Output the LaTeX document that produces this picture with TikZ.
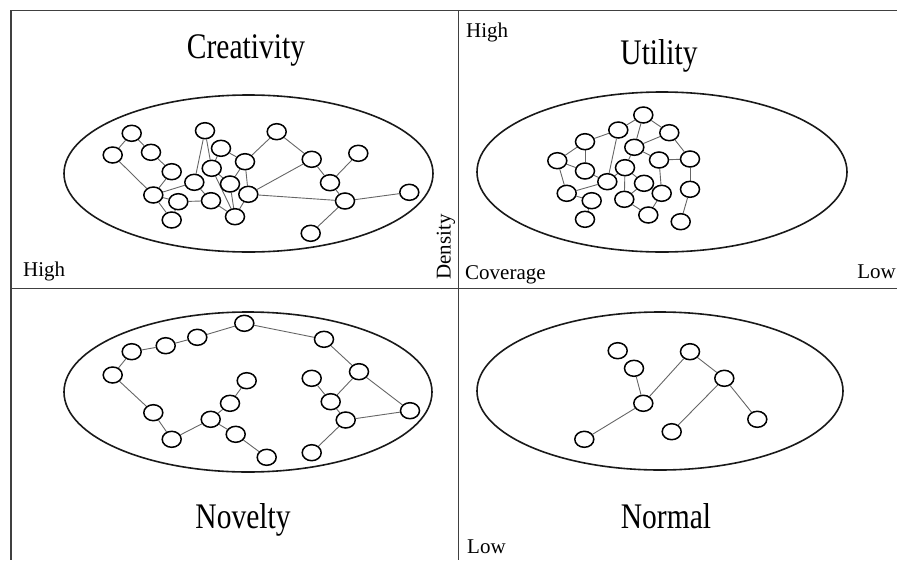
\documentclass[tikz,border=0pt]{standalone}
\usepackage{fontspec}
\setmainfont{Liberation Serif}
\newfontfamily\titlefont[FakeStretch=0.82]{Liberation Serif}
\usetikzlibrary{shapes.geometric}
\pgfdeclarelayer{bg}
\pgfsetlayers{bg,main}
\begin{document}
\begin{tikzpicture}[x=1pt,y=-1pt,
  frameline/.style={draw=black!75,line width=1.3pt},
  region/.style={draw=black!90,line width=1.6pt},
  vtx/.style={draw=black,line width=1.5pt,ellipse,minimum width=19pt,minimum height=16pt,inner sep=0pt,fill=white},
  edge/.style={draw=black!60,line width=0.9pt},
  title/.style={font=\titlefont\fontsize{36}{40}\selectfont,inner sep=0pt},
  lbl/.style={font=\fontsize{21}{24}\selectfont,inner sep=0pt}]
\useasboundingbox (0,0) rectangle (897,560);
% frame
\coordinate (tl) at (11,10.7);
\coordinate (tr) at (897,10.7);
\coordinate (bl) at (11,560);
\coordinate (mt) at (458.5,10.7);
\coordinate (mb) at (458.5,560);
\coordinate (ml) at (11,288.5);
\coordinate (mr) at (897,288.5);
\draw[frameline] (tr) -- (tl) -- (bl);
\draw[frameline] (mt) -- (mb);
\draw[frameline] (ml) -- (mr);
% regions
\draw[region] (248.5,173.5) ellipse [x radius=184.5pt, y radius=78.5pt];
\draw[region] (662,172) ellipse [x radius=185pt, y radius=80pt];
\draw[region] (248,392) ellipse [x radius=184pt, y radius=80pt];
\draw[region] (660,391) ellipse [x radius=183pt, y radius=79pt];
% titles and labels
\node[title,anchor=base] (tC) at (246,58) {Creativity};
\node[title,anchor=base] (tU) at (659,64) {Utility};
\node[title,anchor=base] (tN) at (243,528) {Novelty};
\node[title,anchor=base] (tM) at (666,528) {Normal};
\node[lbl,anchor=base west] (lh1) at (466,37) {High};
\node[lbl,anchor=base west] (lh2) at (23,276) {High};
\node[lbl,anchor=base west] (lcov) at (465,279) {Coverage};
\node[lbl,anchor=base east] (llow1) at (896,278) {Low};
\node[lbl,anchor=base west] (llow2) at (467,553) {Low};
\node[lbl,anchor=base,rotate=90] (lden) at (450.5,247) {Density};
% ---- Creativity
\foreach \n/\x/\y in {1/131.7/133.3,2/112.7/155,3/151/152.3,4/205/130.7,5/276.7/131.7,6/221/148.3,7/245/161.7,8/171.7/171.7,9/211.7/168.3,10/194.3/182.3,11/230/184,12/311.7/159.3,13/358.3/153.3,14/330/182.7,15/153.3/195,16/178.3/201.7,17/211/200.7,18/248.3/194.3,19/345/201,20/409.3/192.3,21/171.7/220,22/235/216.7,23/310.7/233.3}
  \node[vtx] (a\n) at (\x,\y) {};
% ---- Utility
\foreach \n/\x/\y in {1/643.3/115,2/618.3/130,3/669.3/132.7,4/585/141.7,5/634.3/147.3,6/557.3/160.7,7/659/160,8/690/159,9/585/171,10/625/167.7,11/607.3/181.7,12/644/183.3,13/566.7/193.3,14/591.7/200.7,15/624.3/199.3,16/661.7/193.3,17/690/189.3,18/585/219.3,19/648.3/215,20/680.7/221.7}
  \node[vtx] (b\n) at (\x,\y) {};
% ---- Novelty
\foreach \n/\x/\y in {1/244.3/323.3,2/197.3/337.3,3/165.7/345.7,4/131.7/351.7,5/112.7/375,6/324/339.3,7/359/371.7,8/246.7/380.7,9/311.7/378.3,10/230/403.3,11/330.7/401.7,12/153.3/412.7,13/210.7/419.3,14/345.7/420,15/410/410.7,16/171.7/439.3,17/235.7/434.3,18/266.7/457.3,19/311.7/452.7}
  \node[vtx] (c\n) at (\x,\y) {};
% ---- Normal
\foreach \n/\x/\y in {1/617.7/350.7,2/634/368.3,3/690/351.7,4/724.3/378.3,5/643.3/403.3,6/584.3/439.3,7/671.7/431.7,8/757.3/419.3}
  \node[vtx] (d\n) at (\x,\y) {};
% edges (behind the vertices)
\begin{pgfonlayer}{bg}
\foreach \p/\q in {1/2,1/3,3/8,2/15,8/15,15/10,15/16,15/21,16/21,16/17,10/17,4/10,4/9,6/7,6/9,9/11,9/22,7/18,7/5,7/11,5/12,12/14,13/14,12/18,18/19,14/19,19/20,19/23,11/18,11/22,18/22,17/22}
  \draw[edge] (a\p) -- (a\q);
\foreach \p/\q in {1/2,1/3,1/5,2/4,2/11,3/5,3/8,5/7,7/8,4/9,4/6,6/9,6/13,9/11,13/11,13/14,14/18,10/11,10/12,10/15,5/10,7/16,8/17,12/16,12/15,15/19,16/19,17/20}
  \draw[edge] (b\p) -- (b\q);
\foreach \p/\q in {5/4,4/3,3/2,2/1,1/6,6/7,7/15,7/11,9/11,11/14,14/15,14/19,5/12,12/16,16/13,13/10,10/8,13/17,17/18}
  \draw[edge] (c\p) -- (c\q);
\foreach \p/\q in {2/5,5/6,5/3,3/4,4/7,4/8}
  \draw[edge] (d\p) -- (d\q);
\end{pgfonlayer}
\end{tikzpicture}
\end{document}
